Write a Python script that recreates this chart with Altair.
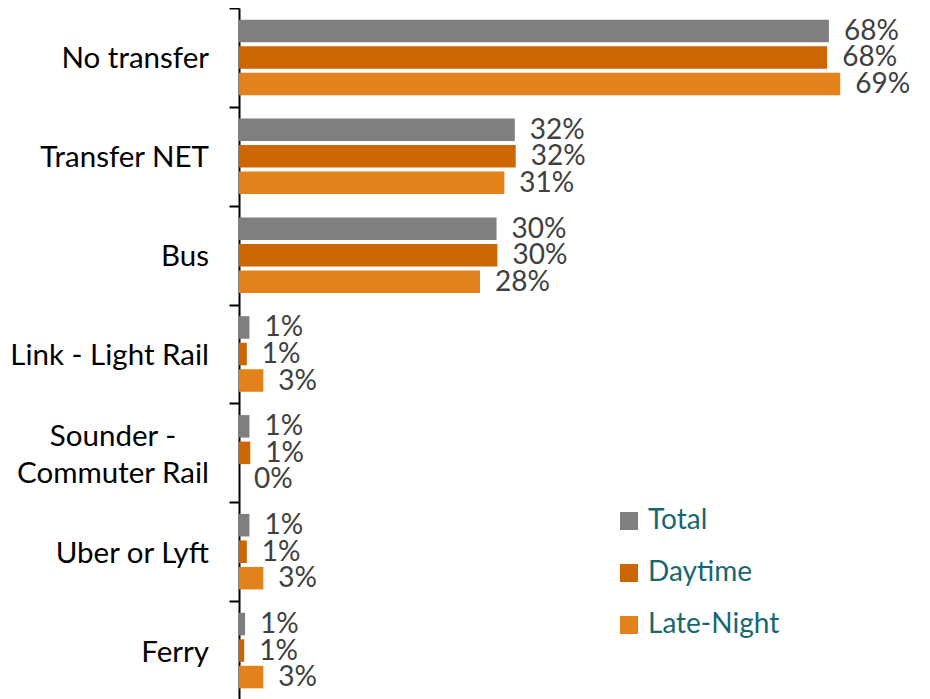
import altair as alt
import pandas as pd

categories = ["No transfer", "Transfer NET", "Bus", "Link - Light Rail",
              "Sounder - Commuter Rail", "Uber or Lyft", "Ferry"]
series = ["Total", "Daytime", "Late-Night"]
total = [0.678, 0.317, 0.296, 0.012, 0.012, 0.012, 0.007]
daytime = [0.676, 0.318, 0.297, 0.009, 0.013, 0.009, 0.006]
late_night = [0.691, 0.305, 0.277, 0.028, 0.0, 0.028, 0.028]
colors = ["#7F7F7F", "#CC6600", "#E3821A"]

rows = []
for i, c in enumerate(categories):
    for s, vals in zip(series, [total, daytime, late_night]):
        rows.append({"category": c, "series": s, "value": vals[i]})
df = pd.DataFrame(rows)

cat_df = pd.DataFrame({
    "category": categories,
    "text": ["Sounder -\nCommuter Rail" if c.startswith("Sounder") else c for c in categories],
    "multi": [c.startswith("Sounder") for c in categories],
})

FONT = "Lato"

x = alt.X("value:Q", scale=alt.Scale(domain=[0, 0.785]), axis=None)
y = alt.Y("category:N", sort=categories,
          scale=alt.Scale(domain=categories, paddingInner=0, paddingOuter=0),
          axis=alt.Axis(title=None, labels=False, tickBand="extent", tickSize=10,
                        tickWidth=2, tickColor="black", domainColor="black",
                        domainWidth=2, grid=False))
yoff = alt.YOffset("series:N", sort=series,
                   scale=alt.Scale(domain=series, paddingInner=0.15, paddingOuter=0.44))

bars = alt.Chart(df).mark_bar().encode(
    x=x, y=y, yOffset=yoff,
    color=alt.Color("series:N",
                    scale=alt.Scale(domain=series, range=colors),
                    legend=alt.Legend(title=None, orient="none", legendX=376, legendY=499,
                                      symbolType="square", symbolSize=324,
                                      symbolStrokeWidth=0, labelFont=FONT,
                                      labelFontSize=28, labelColor="#156870",
                                      rowPadding=24, labelOffset=5)),
)

values = alt.Chart(df).mark_text(align="left", baseline="middle", dx=15, dy=1,
                                 font=FONT, fontSize=28, color="#404040").encode(
    x=x, y=y, yOffset=yoff, text=alt.Text("value:Q", format=".0%"))

cat_single = alt.Chart(cat_df).transform_filter("!datum.multi").mark_text(
    align="right", baseline="middle", dy=2, font=FONT, fontSize=29.5, color="black").encode(
    x=alt.value(-30), y=alt.Y("category:N", sort=categories), text="text:N")

cat_multi = alt.Chart(cat_df).transform_filter("datum.multi").mark_text(
    align="center", baseline="middle", dy=-16, font=FONT, fontSize=29.5, color="black",
    lineBreak="\n", lineHeight=37).encode(
    x=alt.value(-126), y=alt.Y("category:N", sort=categories), text="text:N")

chart = alt.layer(bars, values, cat_single, cat_multi).properties(
    width=683, height=692,
    autosize=alt.AutoSizeParams(type="none"),
    padding={"left": 231, "top": 0, "right": 0, "bottom": 0},
).configure_view(stroke=None)

chart.save("out.html", embed_options={"renderer": "svg", "actions": False})
